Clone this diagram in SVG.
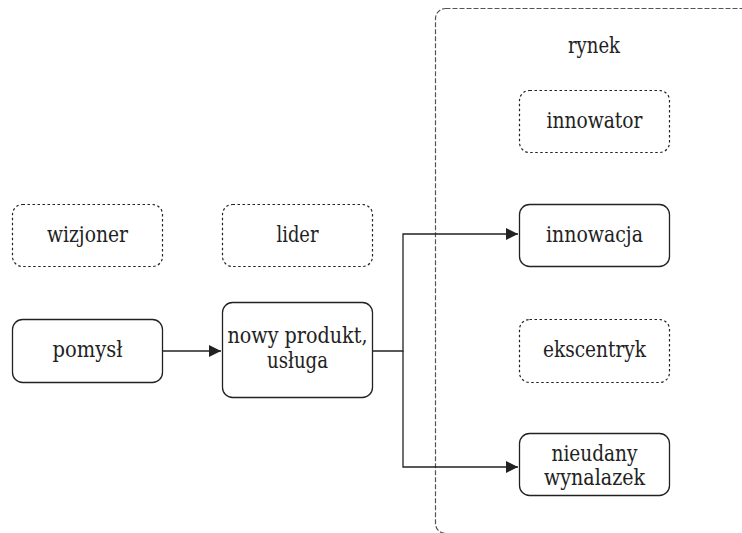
<svg xmlns="http://www.w3.org/2000/svg" width="742" height="533" viewBox="0 0 742 533">
<style>
.solid{fill:#fff;stroke:#222;stroke-width:1.3}
.dot{fill:#fff;stroke:#222;stroke-width:1.2;stroke-dasharray:2.5 2.5}
.frame{fill:none;stroke:#555;stroke-width:1.2;stroke-dasharray:5 2}
.t{font-family:"DejaVu Serif",serif;font-size:22px;fill:#222;text-anchor:middle}
.conn{fill:none;stroke:#222;stroke-width:1.3}
</style>
<defs>
<marker id="arr" viewBox="0 0 12 12" refX="12" refY="6" markerWidth="12" markerHeight="12" markerUnits="userSpaceOnUse" orient="auto">
<path d="M0,0 L12,6 L0,12 z" fill="#222"/>
</marker>
</defs>
<g id="rynek">
<rect class="frame" x="435.5" y="8.5" width="420" height="525" rx="10"/>
<text class="t" x="594" y="53" textLength="52" lengthAdjust="spacingAndGlyphs">rynek</text>
</g>
<g id="connectors">
<line class="conn" x1="162" y1="351" x2="221" y2="351" marker-end="url(#arr)"/>
<polyline class="conn" points="372,351 403,351 403,234 518,234" marker-end="url(#arr)"/>
<polyline class="conn" points="403,351 403,467 518,467" marker-end="url(#arr)"/>
</g>
<g id="wizjoner">
<rect class="dot" x="12.5" y="204.5" width="150" height="62" rx="10"/>
<text class="t" x="87.5" y="242" textLength="81" lengthAdjust="spacingAndGlyphs">wizjoner</text>
</g>
<g id="lider">
<rect class="dot" x="222.5" y="204.5" width="150" height="62" rx="10"/>
<text class="t" x="297.5" y="242" textLength="42" lengthAdjust="spacingAndGlyphs">lider</text>
</g>
<g id="pomysl">
<rect class="solid" x="12.5" y="319.5" width="150" height="63" rx="10"/>
<text class="t" x="87.5" y="357" textLength="70" lengthAdjust="spacingAndGlyphs">pomysł</text>
</g>
<g id="nowy">
<rect class="solid" x="222.5" y="302.5" width="150" height="95" rx="10"/>
<text class="t" x="297.5" y="343" textLength="140" lengthAdjust="spacingAndGlyphs">nowy produkt,</text>
<text class="t" x="297.5" y="368" textLength="61" lengthAdjust="spacingAndGlyphs">usługa</text>
</g>
<g id="innovator">
<rect class="dot" x="519.5" y="90.5" width="150" height="62" rx="10"/>
<text class="t" x="594.5" y="128" textLength="96" lengthAdjust="spacingAndGlyphs">innowator</text>
</g>
<g id="innowacja">
<rect class="solid" x="519.5" y="204.5" width="150" height="62" rx="10"/>
<text class="t" x="594.5" y="242" textLength="97" lengthAdjust="spacingAndGlyphs">innowacja</text>
</g>
<g id="ekscentryk">
<rect class="dot" x="519.5" y="319.5" width="150" height="63" rx="10"/>
<text class="t" x="594.5" y="357" textLength="103" lengthAdjust="spacingAndGlyphs">ekscentryk</text>
</g>
<g id="nieudany">
<rect class="solid" x="519.5" y="433.5" width="150" height="62" rx="10"/>
<text class="t" x="594.5" y="461" textLength="86" lengthAdjust="spacingAndGlyphs">nieudany</text>
<text class="t" x="594.5" y="485" textLength="101" lengthAdjust="spacingAndGlyphs">wynalazek</text>
</g>
</svg>
